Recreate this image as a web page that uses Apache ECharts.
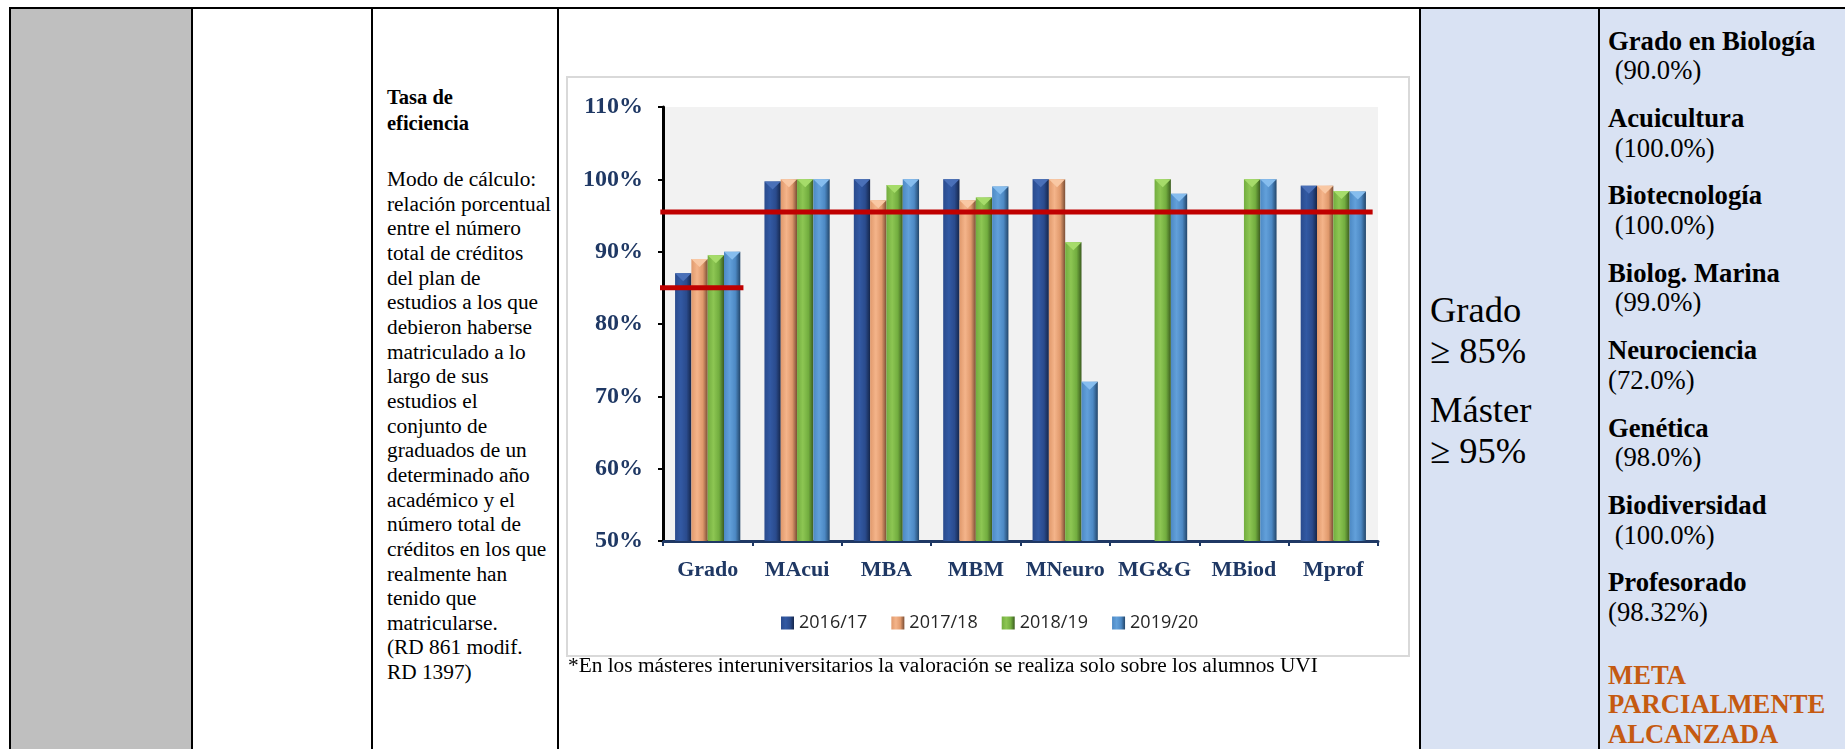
<!DOCTYPE html>
<html>
<head>
<meta charset="utf-8">
<script src="https://cdn.jsdelivr.net/npm/echarts@6/dist/echarts.min.js"></script>
<style>
  html, body { margin:0; padding:0; background:#fff; }
  body { width:1845px; height:749px; position:relative; overflow:hidden; font-family:'Liberation Serif', serif; }
  .abs { position:absolute; }
  .t { position:absolute; white-space:pre; font-family:'Liberation Serif', serif; color:#000; }
</style>
</head>
<body>
<!-- table cells and borders -->
<div class="abs" style="left:11px;top:9px;width:180px;height:740px;background:#BFBFBF"></div>
<div class="abs" style="left:1421px;top:9px;width:424px;height:740px;background:#D9E2F3"></div>
<div class="abs" style="left:9px;top:7px;width:1836px;height:2px;background:#000"></div>
<div class="abs" style="left:9px;top:7px;width:2px;height:742px;background:#000"></div>
<div class="abs" style="left:191px;top:7px;width:2px;height:742px;background:#000"></div>
<div class="abs" style="left:371px;top:7px;width:2px;height:742px;background:#000"></div>
<div class="abs" style="left:557px;top:7px;width:2px;height:742px;background:#000"></div>
<div class="abs" style="left:1419px;top:7px;width:2px;height:742px;background:#000"></div>
<div class="abs" style="left:1598px;top:7px;width:2px;height:742px;background:#000"></div>
<!-- chart frame -->
<div class="abs" style="left:566px;top:76px;width:840px;height:577px;border:2px solid #D9D9D9;background:#fff;box-sizing:content-box"></div>
<div id="chart" class="abs" style="left:567px;top:77px;width:840px;height:577px"></div>

<script>
// ---------- data ----------
const categories = ['Grado', 'MAcui', 'MBA', 'MBM', 'MNeuro', 'MG&G', 'MBiod', 'Mprof'];
const years = ['2016/17', '2017/18', '2018/19', '2019/20'];
const v1617 = [87, 99.7, 100, 100, 100, null, null, 99.1];
const v1718 = [89, 100, 97.1, 97.1, 100, null, null, 99.1];
const v1819 = [89.5, 100, 99.2, 97.5, 91.3, 100, 100, 98.4];
const v1920 = [90, 100, 100, 99, 72, 98, 100, 98.32];
const yTicks = { min: 50, max: 110, interval: 10 };
const gradoTarget = 85;
const masterTarget = 95.5;
const gradoTargetSpan = [-0.06, 0.9];   // in category units
const masterTargetSpan = [-0.03, 7.94];

const headingLines = ['Tasa de', 'eficiencia'];
const bodyLines = ['Modo de cálculo:', 'relación porcentual', 'entre el número', 'total de créditos',
  'del plan de', 'estudios a los que', 'debieron haberse', 'matriculado a lo', 'largo de sus',
  'estudios el', 'conjunto de', 'graduados de un', 'determinado año', 'académico y el',
  'número total de', 'créditos en los que', 'realmente han', 'tenido que', 'matricularse.',
  '(RD 861 modif.', 'RD 1397)'];
const footnote = '*En los másteres interuniversitarios la valoración se realiza solo sobre los alumnos UVI';
const goalLines = ['Grado', '≥ 85%', 'Máster', '≥ 95%'];
const resultNames = ['Grado en Biología', 'Acuicultura', 'Biotecnología', 'Biolog. Marina', 'Neurociencia', 'Genética', 'Biodiversidad', 'Profesorado'];
const resultValues = [' (90.0%)', ' (100.0%)', ' (100.0%)', ' (99.0%)', '(72.0%)', ' (98.0%)', ' (100.0%)', '(98.32%)'];
const verdict = ['META', 'PARCIALMENTE', 'ALCANZADA'];

// ---------- text placement ----------
function put(text, x, base, size, weight, color) {
  const d = document.createElement('div');
  d.className = 't';
  d.style.left = x + 'px';
  d.style.top = (base - 0.8375 * size) + 'px';
  d.style.fontSize = size + 'px';
  d.style.lineHeight = size + 'px';
  d.style.fontWeight = weight || 'normal';
  if (color) d.style.color = color;
  d.textContent = text;
  document.body.appendChild(d);
}
headingLines.forEach((s, i) => put(s, 387, 104 + i * 26, 20.5, 'bold'));
bodyLines.forEach((s, i) => put(s, 387, 187 + i * 24.65, 21.33));
put(footnote, 568, 673, 21.33);
[323, 364, 423, 464].forEach((b, i) => put(goalLines[i], 1430, b, 36.5));
resultNames.forEach((s, k) => {
  put(s, 1608, 50 + 77.4 * k, 26.67, 'bold');
  put(resultValues[k], 1608, 79.5 + 77.4 * k, 26.67);
});
verdict.forEach((s, i) => put(s, 1608, 684 + i * 29.5, 26.67, 'bold', '#C55A11'));

// ---------- chart ----------
const values = [v1617, v1718, v1819, v1920];
const palette = [
  { base: '#2A4B8D', light: '#3259A3', dark: '#15264A', tip: '#4A70B8' },
  { base: '#E0996C', light: '#F4B48A', dark: '#7A4E35', tip: '#F9C8A4' },
  { base: '#72AD3F', light: '#8DC653', dark: '#3B5C1F', tip: '#A6DC6A' },
  { base: '#4D89C4', light: '#62A0DA', dark: '#23466A', tip: '#86BDEE' }
];
function grad(p) {
  return new echarts.graphic.LinearGradient(0, 0, 1, 0, [
    { offset: 0, color: p.base }, { offset: 0.35, color: p.light },
    { offset: 0.7, color: p.base }, { offset: 1, color: p.dark }
  ]);
}
const navy = '#1F3864';
const chart = echarts.init(document.getElementById('chart'), null, { renderer: 'canvas' });
const series = [];
years.forEach((y, i) => {
  series.push({
    name: y, type: 'bar', data: values[i].map(v => v == null ? '-' : v),
    barGap: '0%', barCategoryGap: '27%',
    itemStyle: { color: grad(palette[i]) }, z: 2, silent: true
  });
});
years.forEach((y, i) => {
  series.push({
    name: y, type: 'pictorialBar', data: values[i].map(v => v == null ? '-' : v),
    barGap: '0%', barCategoryGap: '27%',
    symbol: 'triangle', symbolRotate: 180, symbolPosition: 'end', symbolSize: ['100%', 8],
    itemStyle: { color: palette[i].tip }, z: 3, silent: true
  });
});
series.push({
  type: 'line', xAxisIndex: 1, yAxisIndex: 0, clip: false, symbol: 'none', silent: true, z: 10,
  data: gradoTargetSpan.map(x => [x, gradoTarget]),
  lineStyle: { color: '#C00000', width: 5 }
});
series.push({
  type: 'line', xAxisIndex: 1, yAxisIndex: 0, clip: false, symbol: 'none', silent: true, z: 10,
  data: masterTargetSpan.map(x => [x, masterTarget]),
  lineStyle: { color: '#C00000', width: 5 }
});

chart.setOption({
  animation: false,
  grid: { left: 96, top: 30, width: 715, height: 434, show: true, backgroundColor: '#F2F2F2', borderWidth: 0 },
  legend: {
    data: years, left: 209, top: 532, itemWidth: 13, itemHeight: 13, itemGap: 24, icon: 'rect',
    textStyle: { fontFamily: 'Open Sans', fontSize: 18, color: '#262626', lineHeight: 18 }
  },
  xAxis: [
    {
      type: 'category', data: categories,
      axisLine: { lineStyle: { color: navy, width: 3 } },
      axisTick: { show: true, length: 5, lineStyle: { color: navy, width: 2 } },
      axisLabel: { interval: 0, color: navy, fontFamily: 'Liberation Serif', fontWeight: 'bold', fontSize: 22, margin: 18, lineHeight: 22 },
      splitLine: { show: false }
    },
    { type: 'value', min: 0, max: 8, show: false }
  ],
  yAxis: {
    type: 'value', min: yTicks.min, max: yTicks.max, interval: yTicks.interval,
    axisLine: { show: true, lineStyle: { color: '#000', width: 3 } },
    axisTick: { show: true, length: 5, lineStyle: { color: '#000', width: 2 } },
    axisLabel: { formatter: '{value}%', color: navy, fontFamily: 'Liberation Serif', fontWeight: 'bold', fontSize: 24, margin: 20 },
    splitLine: { show: false }
  },
  series: series
});
</script>
</body>
</html>
